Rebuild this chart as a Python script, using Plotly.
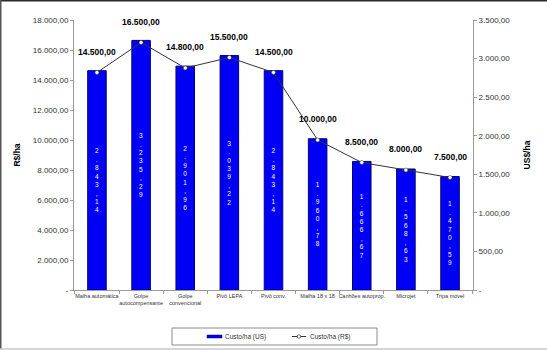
import plotly.graph_objects as go

categories = [
    "Malha automática",
    "Golpe<br>autocompensante",
    "Golpe<br>convencional",
    "Pivô LEPA",
    "Pivô conv.",
    "Malha 18 x 18",
    "Canhões autoprop.",
    "Microjet",
    "Tripa móvel",
]
custo_usd = [2843.14, 3235.29, 2901.96, 3039.22, 2843.14, 1960.78, 1666.67, 1568.63, 1470.59]
custo_brl = [14500, 16500, 14800, 15500, 14500, 10000, 8500, 8000, 7500]

brl_ticks = list(range(0, 18001, 2000))
usd_ticks = list(range(0, 3501, 500))

series_names = ["Custo/ha (US)", "Custo/ha (R$)"]


def br_number(v):
    """Brazilian number format: 14.500,00"""
    s = f"{v:,.2f}"
    return s.replace(",", "X").replace(".", ",").replace("X", ".")


def tick_text(values):
    return ["-" if v == 0 else br_number(v) for v in values]


def stacked(s):
    # one character per line, as in a narrow wrapped label
    return "<br>".join(list(s))


FONT = "Liberation Sans, Arial, sans-serif"
BAR_BLUE = "#0000F5"
BAR_EDGE = "#000080"
LINE_COL = "#333333"

# plot area in pixels (547 x 350 canvas)
L, R, T, B = 74, 74, 20, 60
PW, PH = 547 - L - R, 350 - T - B


def px_x(x):
    return (x - L) / PW


def px_y(y):
    return (350 - B - y) / PH


fig = go.Figure()

fig.add_trace(go.Bar(
    x=categories,
    y=custo_usd,
    name=series_names[0],
    yaxis="y",
    marker=dict(color=BAR_BLUE, line=dict(color=BAR_EDGE, width=1)),
    width=0.42,
    text=[stacked(br_number(v)) for v in custo_usd],
    textposition="inside",
    insidetextanchor="middle",
    textangle=0,
    textfont=dict(family=FONT, size=6.5, color="white"),
    constraintext="none",
    showlegend=False,
))

fig.add_trace(go.Scatter(
    x=categories,
    y=custo_brl,
    name=series_names[1],
    yaxis="y2",
    mode="lines+markers",
    line=dict(color=LINE_COL, width=1),
    marker=dict(color="white", size=4, line=dict(color=LINE_COL, width=0.5)),
    showlegend=False,
))

annotations = [
    dict(x=c, y=v, xref="x", yref="y2", text="<b>" + br_number(v) + "</b>",
         showarrow=False, yshift=21,
         font=dict(family=FONT, size=8.5, color="#000000"))
    for c, v in zip(categories, custo_brl)
]

# legend drawn below the plot
leg_font = dict(family=FONT, size=6.5, color="#333333")
leg_cy = px_y(336.5)
annotations += [
    dict(x=px_x(223), y=leg_cy, xref="paper", yref="paper", text=series_names[0],
         showarrow=False, xanchor="left", yanchor="middle", font=leg_font),
    dict(x=px_x(308), y=leg_cy, xref="paper", yref="paper", text=series_names[1],
         showarrow=False, xanchor="left", yanchor="middle", font=leg_font),
]

shapes = [
    # outer chart frame
    dict(type="line", xref="paper", yref="paper", x0=px_x(0), x1=px_x(547), y0=px_y(0), y1=px_y(0),
         line=dict(color="#2a2a2a", width=3)),
    dict(type="line", xref="paper", yref="paper", x0=px_x(0), x1=px_x(0), y0=px_y(349), y1=px_y(0),
         line=dict(color="#555555", width=3)),
    dict(type="line", xref="paper", yref="paper", x0=px_x(0), x1=px_x(547), y0=px_y(349), y1=px_y(349),
         line=dict(color="#c8c8c8", width=1.5)),
    # legend frame
    dict(type="rect", xref="paper", yref="paper", x0=px_x(172), x1=px_x(377), y0=px_y(345), y1=px_y(328),
         line=dict(color="#8a8a8a", width=1)),
    # legend key: bar
    dict(type="rect", xref="paper", yref="paper", x0=px_x(207), x1=px_x(222), y0=px_y(338), y1=px_y(335),
         line=dict(color=BAR_EDGE, width=0.5), fillcolor=BAR_BLUE),
    # legend key: line with marker
    dict(type="line", xref="paper", yref="paper", x0=px_x(292), x1=px_x(306), y0=leg_cy, y1=leg_cy,
         line=dict(color=LINE_COL, width=1)),
    dict(type="circle", xref="paper", yref="paper", x0=px_x(297.3), x1=px_x(300.7),
         y0=px_y(338.2), y1=px_y(334.8), line=dict(color=LINE_COL, width=0.7), fillcolor="white"),
]

tick_font = dict(family=FONT, size=8, color="#333333")

fig.update_layout(
    width=547,
    height=350,
    margin=dict(l=L, r=R, t=T, b=B),
    paper_bgcolor="white",
    plot_bgcolor="white",
    showlegend=False,
    xaxis=dict(
        showline=True, linecolor="#999999", linewidth=1,
        ticks="outside", ticklen=3, tickcolor="#999999", tickson="boundaries",
        tickfont=dict(family=FONT, size=5.5, color="#333333"),
        showgrid=False, tickangle=0,
    ),
    yaxis=dict(
        side="right", range=[0, 3500],
        tickvals=usd_ticks, ticktext=tick_text(usd_ticks),
        showline=True, linecolor="#999999", linewidth=1,
        ticks="outside", ticklen=3, tickcolor="#999999",
        tickfont=tick_font, showgrid=False, zeroline=False,
        title=dict(text="<b>US$/ha</b>", font=dict(family=FONT, size=8.5, color="#000000"),
                   standoff=14),
    ),
    yaxis2=dict(
        side="left", overlaying="y", range=[0, 18000],
        tickvals=brl_ticks, ticktext=tick_text(brl_ticks),
        showline=True, linecolor="#999999", linewidth=1,
        ticks="outside", ticklen=3, tickcolor="#999999",
        tickfont=tick_font, showgrid=False, zeroline=False,
        title=dict(text="<b>R$/ha</b>", font=dict(family=FONT, size=8.5, color="#000000"),
                   standoff=10),
    ),
    annotations=annotations,
    shapes=shapes,
)

fig.write_html("out.html")
